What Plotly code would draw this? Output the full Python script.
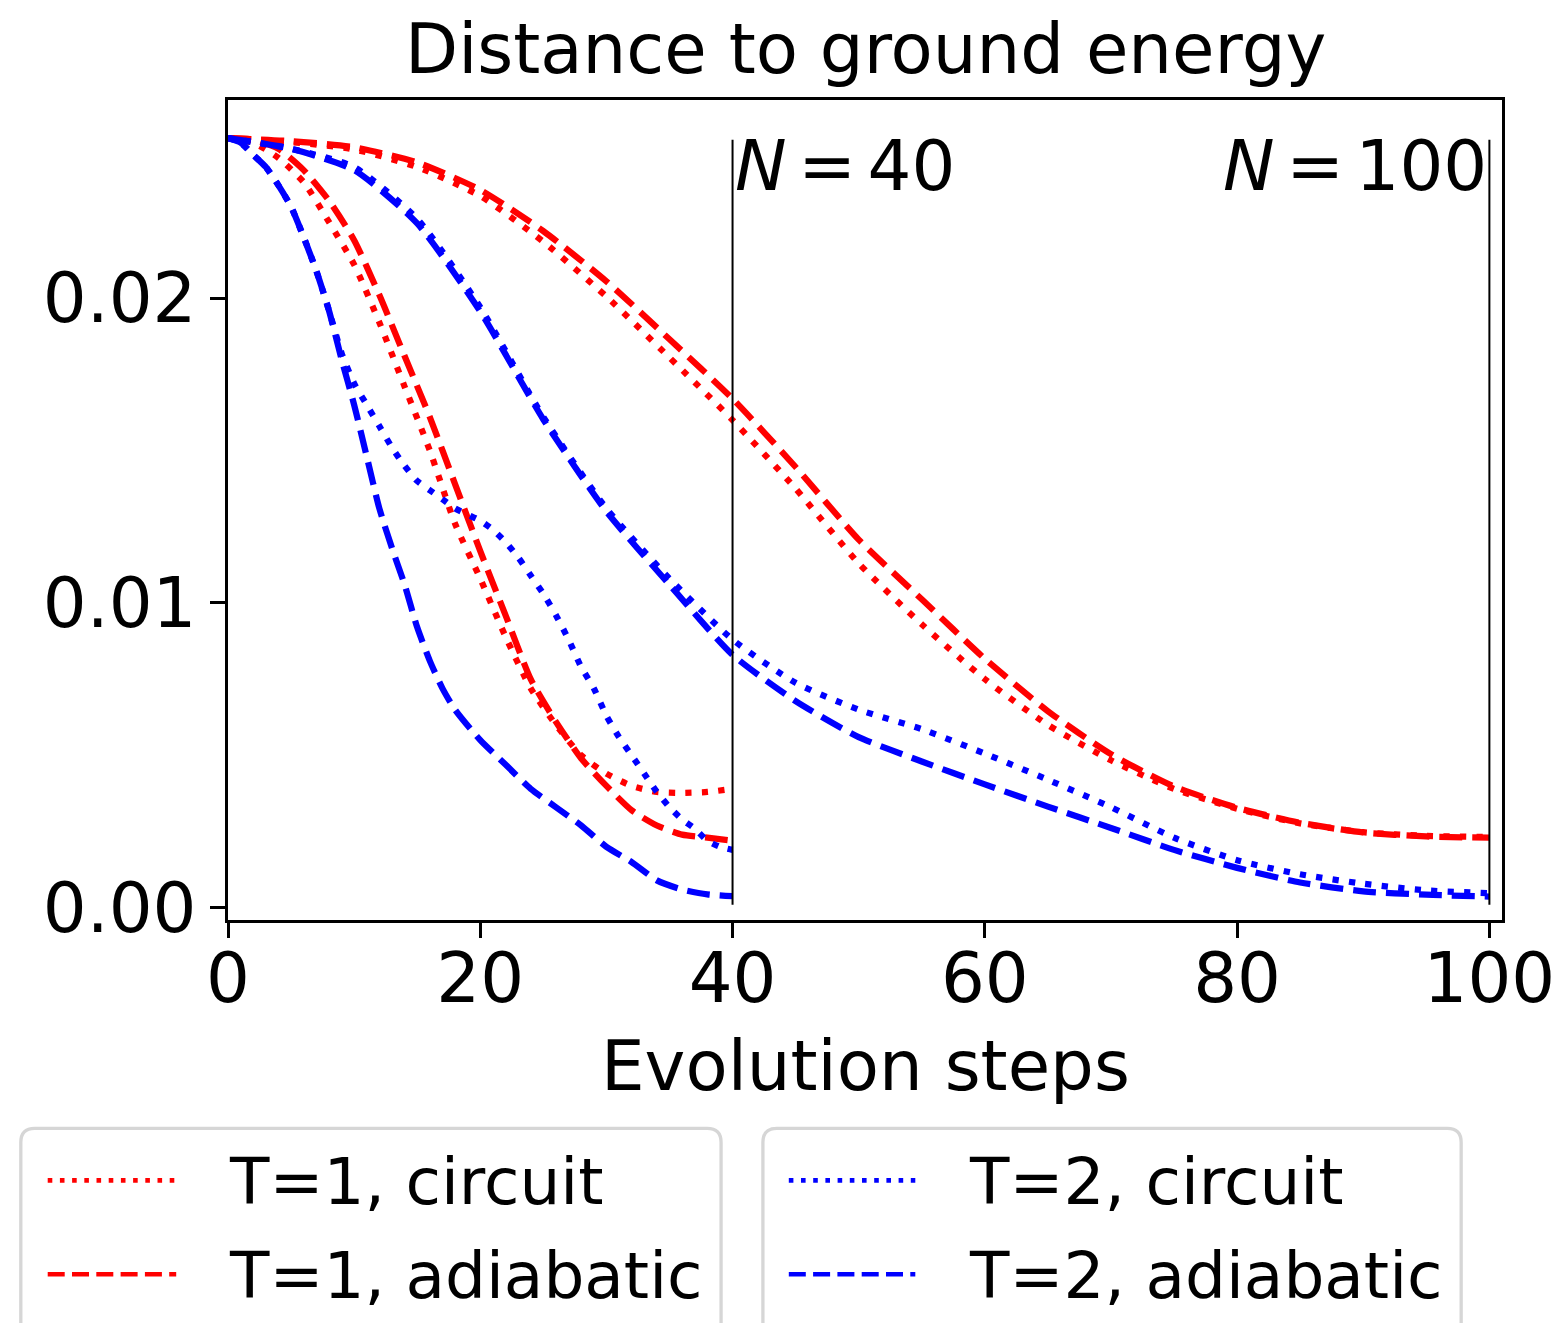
import plotly.graph_objects as go

# ---------------- data ----------------
steps_red_n40 = list(range(0, 41, 2))
t1_adiabatic_n40 = [0.02525, 0.0252, 0.0249, 0.0242, 0.0232, 0.0219, 0.0201, 0.0181, 0.0161, 0.0139,
                    0.0117, 0.0096, 0.0075, 0.0061, 0.0049, 0.0040, 0.0032, 0.0027, 0.0024, 0.0023, 0.0022]
t1_circuit_n40 = [0.02525, 0.0251, 0.0246, 0.0238, 0.0225, 0.0211, 0.0192, 0.0171, 0.0150, 0.0126,
                  0.0108, 0.0089, 0.0072, 0.0060, 0.0050, 0.0044, 0.0040, 0.0038, 0.00377, 0.0038, 0.0039]

steps_blue_circ_n40 = list(range(0, 41))
t2_circuit_n40 = [0.02525, 0.0251, 0.0247, 0.0243, 0.0237, 0.0230, 0.0220, 0.0209, 0.0196, 0.0182,
                  0.0172, 0.0165, 0.0158, 0.0151, 0.0145, 0.0140, 0.0137, 0.0134, 0.0131, 0.0129,
                  0.0127, 0.0124, 0.0120, 0.0115, 0.0109, 0.0103, 0.0096, 0.0088, 0.0079, 0.0072,
                  0.0063, 0.0056, 0.0050, 0.0044, 0.0038, 0.0033, 0.0029, 0.0026, 0.0022, 0.0020, 0.0019]

steps_blue_adia_n40 = list(range(0, 19)) + list(range(20, 41, 2))
t2_adiabatic_n40 = [0.02525, 0.0251, 0.0247, 0.0243, 0.0237, 0.0230, 0.0220, 0.0209, 0.0196, 0.0180,
                    0.0165, 0.0148, 0.0131, 0.0118, 0.0106, 0.0092, 0.0081, 0.0072, 0.0065,
                    0.0055, 0.0047, 0.0039, 0.0033, 0.0027, 0.0020, 0.0015, 0.0009, 0.0006, 0.00044, 0.00038]

steps_n100 = list(range(0, 101, 5))
t1_adiabatic_n100 = [0.02525, 0.02515, 0.02495, 0.02445, 0.02355, 0.02220, 0.02055, 0.01865, 0.01670,
                     0.01446, 0.01208, 0.01012, 0.00817, 0.00645, 0.00504, 0.00398, 0.00328, 0.00279,
                     0.00247, 0.00234, 0.00230]
t1_circuit_n100 = [0.02525, 0.02512, 0.02488, 0.02430, 0.02335, 0.02185, 0.02005, 0.01805, 0.01600,
                   0.01375, 0.01130, 0.00930, 0.00750, 0.00600, 0.00484, 0.00390, 0.00325, 0.00277,
                   0.00248, 0.00236, 0.00232]
t2_adiabatic_n100 = [0.02525, 0.0249, 0.0242, 0.02245, 0.01956, 0.01602, 0.0130, 0.0106, 0.0083,
                     0.00678, 0.0056, 0.0048, 0.00405, 0.00332, 0.00262, 0.0019, 0.00131, 0.00083,
                     0.00054, 0.00043, 0.00037]
t2_circuit_n100 = [0.02525, 0.0249, 0.0243, 0.0226, 0.0197, 0.0161, 0.0131, 0.0108, 0.0088,
                   0.00738, 0.0065, 0.00586, 0.00506, 0.0042, 0.0033, 0.0023, 0.00156, 0.0011,
                   0.00079, 0.00057, 0.00048]

vline_steps = [40, 100]
vline_span = [0.0001, 0.0252]
vline_labels = ["<i>N</i>\u2006=\u200640", "<i>N</i>\u2006=\u2006100"]

x_ticks = [0, 20, 40, 60, 80, 100]
y_ticks = [0.0, 0.01, 0.02]
x_range = [0, 101]
y_range = [-0.0004, 0.0265]

legend_labels = ["T=1, circuit", "T=1, adiabatic", "T=2, circuit", "T=2, adiabatic"]

title_text = "Distance to ground energy"
xlabel_text = "Evolution steps"

# ---------------- style ----------------
OFF = 8  # page body margin
PAGE_W, PAGE_H = 1567, 1323
W, H = PAGE_W - OFF, PAGE_H - OFF
PL, PR, PT, PB = 228, 1507, 100, 920.5  # plot area in page px
ML, MT = PL - OFF, PT - OFF
MR, MB = W - (PR - OFF), H - (PB - OFF)
FONT = "DejaVu Sans"
FS = 69
FS_LEG = 64.5
RED, BLUE = "#ff0000", "#0000ff"
LW = 6.25
DOT = "6.25px,10.3px"
DASH = "23px,10px"
LEG_DOT = "4.6px,7.6px"
LEG_DASH = "17px,7.3px"


def paper(xp, yp):
    """page pixel -> paper fraction"""
    return (xp - PL) / (PR - PL), (PB - yp) / (PB - PT)


fig = go.Figure()

series = [
    (steps_red_n40, t1_circuit_n40, RED, DOT),
    (steps_red_n40, t1_adiabatic_n40, RED, DASH),
    (steps_n100, t1_circuit_n100, RED, DOT),
    (steps_n100, t1_adiabatic_n100, RED, DASH),
    (steps_blue_circ_n40, t2_circuit_n40, BLUE, DOT),
    (steps_blue_adia_n40, t2_adiabatic_n40, BLUE, DASH),
    (steps_n100, t2_circuit_n100, BLUE, DOT),
    (steps_n100, t2_adiabatic_n100, BLUE, DASH),
]
for xs, ys, col, dash in series:
    fig.add_trace(go.Scatter(x=xs, y=ys, mode="lines", showlegend=False,
                             line=dict(color=col, width=LW, dash=dash, shape="spline", smoothing=0.6)))

for xv in vline_steps:
    fig.add_trace(go.Scatter(x=[xv, xv], y=vline_span, mode="lines", showlegend=False,
                             line=dict(color="black", width=2)))

annotations = []
annotations.append(dict(x=vline_steps[0], y=0.0257, xref="x", yref="y", text=vline_labels[0],
                        xanchor="left", yanchor="top", showarrow=False, font=dict(size=FS)))
annotations.append(dict(x=vline_steps[1], y=0.0257, xref="x", yref="y", text=vline_labels[1],
                        xanchor="right", yanchor="top", showarrow=False, font=dict(size=FS)))
# title
annotations.append(dict(x=0.5, y=1, xref="paper", yref="paper", text=title_text, xanchor="center",
                        yanchor="bottom", yshift=9, showarrow=False, font=dict(size=FS)))
# x label
annotations.append(dict(x=0.5, y=0, xref="paper", yref="paper", text=xlabel_text, xanchor="center",
                        yanchor="top", yshift=-104, showarrow=False, font=dict(size=FS)))

shapes = []
# legend boxes
r = 14
p = lambda a, b: "%.6f,%.6f" % paper(a, b)
for bx0, bx1 in [(20, 723), (765, 1466)]:
    by0, by1 = 1129, 1420
    path = ("M " + p(bx0, by1) + " L " + p(bx0, by0 + r) + " Q " + p(bx0, by0) + " " + p(bx0 + r, by0) +
            " L " + p(bx1 - r, by0) + " Q " + p(bx1, by0) + " " + p(bx1, by0 + r) + " L " + p(bx1, by1) + " Z")
    shapes.append(dict(type="path", path=path, xref="paper", yref="paper",
                       line=dict(color="#d6d6d6", width=3.3), fillcolor="rgba(255,255,255,0.8)", layer="above"))

legend_entries = [
    (legend_labels[0], RED, LEG_DOT, 47, 176, 227, 1181),
    (legend_labels[1], RED, LEG_DASH, 47, 176, 227, 1275),
    (legend_labels[2], BLUE, LEG_DOT, 791, 918, 970, 1181),
    (legend_labels[3], BLUE, LEG_DASH, 791, 918, 970, 1275),
]
for lab, col, dash, sx0, sx1, tx, yy in legend_entries:
    x0, y0 = paper(sx0, yy)
    x1, _ = paper(sx1, yy)
    shapes.append(dict(type="line", xref="paper", yref="paper", x0=x0, x1=x1, y0=y0, y1=y0,
                       line=dict(color=col, width=4.6, dash=dash), layer="above"))
    txp, typ = paper(tx, yy + 1)
    annotations.append(dict(x=txp, y=typ, xref="paper", yref="paper", text=lab, xanchor="left",
                            yanchor="middle", showarrow=False, font=dict(size=FS_LEG)))

axis_common = dict(showgrid=False, zeroline=False, showline=True, linecolor="black", linewidth=3.3,
                   mirror=True, ticks="outside", ticklen=14.6, tickwidth=3.3, tickcolor="black",
                   tickfont=dict(size=FS, color="black", family=FONT))

fig.update_layout(
    width=W, height=H,
    margin=dict(l=ML, r=MR, t=MT, b=MB, pad=0),
    paper_bgcolor="white", plot_bgcolor="white",
    font=dict(family=FONT, size=FS, color="black"),
    xaxis=dict(range=x_range, tickvals=x_ticks, ticklabelstandoff=-19, **axis_common),
    yaxis=dict(range=y_range, tickvals=y_ticks, tickformat=".2f", **axis_common),
    annotations=annotations, shapes=shapes, showlegend=False,
)

fig.write_html("out.html")
